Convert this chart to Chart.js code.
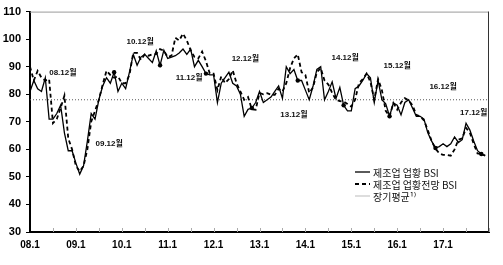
<!DOCTYPE html>
<html>
<head>
<meta charset="utf-8">
<script src="https://cdn.jsdelivr.net/npm/chart.js@4/dist/chart.umd.min.js"></script>
<style>
  html, body { margin: 0; padding: 0; background: #fff; }
  #wrap { width: 503px; height: 265px; position: relative; }
</style>
</head>
<body>
<div id="wrap"><canvas id="bsiChart"></canvas></div>
<script>
// Categories: monthly, 08.1 ~ 18.1 (axis runs one month past the data)
const years = ['08', '09', '10', '11', '12', '13', '14', '15', '16', '17'];
const months = [];
years.forEach(y => { for (let mo = 1; mo <= 12; mo++) months.push(y + '.' + mo); });
months.push('18.1');
const yearTicks = ['08.1', '09.1', '10.1', '11.1', '12.1', '13.1', '14.1', '15.1', '16.1', '17.1'];

// 제조업 업황 BSI (actual)
const actualBSI = [
  81, 85, 82, 81, 86, 71, 71, 73, 76, 66, 59.5, 59.5,
  55, 51, 54, 63, 73, 71, 78, 83, 86, 84, 88, 81,
  84, 82, 88, 94.5, 90.5, 93.5, 94.5, 93, 91.5, 95.8, 90.5, 96,
  93, 93.5, 94, 95, 96.4, 94.5, 96.4, 90, 92.3, 90, 87.5, 87,
  87, 77, 84, 86, 88, 84, 83, 80, 72, 74.5, 75, 77,
  81, 77, 78, 79, 81, 83, 78.5, 90, 87.5, 89, 85, 85,
  81.5, 78, 83, 89, 90, 78, 81, 84.5, 78.5, 82.5, 76, 74,
  74, 82, 83, 85, 87.5, 86, 77, 85, 78, 76.5, 72, 76.8,
  76, 72.5, 77, 78, 75, 72, 72, 71, 66, 63, 60.5, 61,
  62, 61, 62, 64.5, 62.5, 63.5, 69.5, 67, 63, 59.5, 58.3, 57.7
];
// 제조업 업황전망 BSI (outlook)
const outlookBSI = [
  90, 85, 88.5, 86, 85, 85.5, 69.5, 71, 75, 79.5, 64, 60,
  54, 52, 54, 60, 70, 74, 78, 83.5, 88.5, 87, 86, 86.5,
  84, 84, 87, 95, 95, 92.5, 94.5, 94, 94.5, 94.6, 96.4, 95.8,
  93.5, 94, 100.5, 99.5, 102, 99.5, 96, 93.5, 93, 95.5, 92, 87.5,
  87.5, 81.5, 86.5, 84, 85.5, 88.7, 84, 81, 78, 79, 74.5, 74.4,
  80.5, 80, 80.4, 79.8, 79.8, 82, 81, 84, 89.5, 93, 94.5, 88,
  87, 80.5, 82.5, 88, 89.5, 85, 83.5, 80.5, 78, 77.5, 77.4, 76.5,
  75.5, 78, 84, 85.5, 87.5, 84.5, 78, 85.5, 81.5, 74, 72, 76.8,
  74.4, 77, 78.6, 77.8, 76, 72.5, 72, 70.5, 67, 63, 60.3, 58.5,
  58, 58, 57.7, 60, 63.5, 64, 67.8, 66, 62, 58.5, 58.3, 57.7
];
const longTermAvg = 78;

// marked points on the actual series and the notes beside them
const dotMonths = ['09.11', '10.11', '11.11', '12.11', '13.11', '14.11', '15.11', '16.11', '17.11'];
const noteTexts = ['08.12월', '09.12월', '10.12월', '11.12월', '12.12월', '13.12월', '14.12월', '15.12월', '16.12월', '17.12월'];
const noteMonthIdx = [8.6, 20.7, 28.8, 41.6, 56.3, 69, 82.4, 96, 108, 116];
const noteValues = [87.9, 61.9, 99, 86, 92.9, 72.6, 93.1, 90.5, 82.7, 73.2];

const seriesNames = ['제조업 업황 BSI', '제조업 업황전망 BSI', '장기평균¹⁾'];

Chart.defaults.font.family = '"Liberation Sans", "Noto Sans CJK KR", sans-serif';
Chart.defaults.color = '#000';

const framePlugin = { // top/right frame, 6-month ticks, notes and legend
  id: 'frame',
  afterDatasetsDraw(chart) {
    const { ctx, chartArea: a, scales: { x, y } } = chart;
    ctx.save();
    ctx.strokeStyle = '#9a9a9a';
    ctx.lineWidth = 1;
    ctx.beginPath();
    ctx.moveTo(a.left, a.top + 0.5); ctx.lineTo(a.right, a.top + 0.5);
    ctx.stroke();
    ctx.strokeStyle = '#333';
    ctx.beginPath();
    ctx.moveTo(a.right - 0.5, a.top); ctx.lineTo(a.right - 0.5, a.bottom);
    ctx.stroke();
    // minor ticks every 6 months, inside the plot
    ctx.strokeStyle = '#aaa';
    for (let i = 6; i < months.length; i += 6) {
      const px = Math.round(x.getPixelForValue(i)) + 0.5;
      ctx.beginPath(); ctx.moveTo(px, a.bottom - 4); ctx.lineTo(px, a.bottom); ctx.stroke();
    }
    // notes
    ctx.fillStyle = '#111';
    ctx.font = 'bold 8px "Liberation Sans", "Noto Sans CJK KR", sans-serif';
    ctx.textAlign = 'center';
    ctx.textBaseline = 'middle';
    noteTexts.forEach((t, i) => {
      ctx.fillText(t, x.getPixelForValue(noteMonthIdx[i]), y.getPixelForValue(noteValues[i]));
    });
    // legend
    const lx = 355, ly = 172, gap = 12;
    ctx.textAlign = 'left';
    ctx.font = '10px "Noto Sans CJK KR", sans-serif';
    const styles = [
      { c: '#000', w: 1.3, d: [] },
      { c: '#000', w: 1.8, d: [4, 3] },
      { c: '#bbb', w: 1, d: [] }
    ];
    seriesNames.forEach((name, i) => {
      const yy = ly + i * gap;
      ctx.strokeStyle = styles[i].c;
      ctx.lineWidth = styles[i].w;
      ctx.setLineDash(styles[i].d);
      ctx.beginPath(); ctx.moveTo(lx, yy); ctx.lineTo(lx + 15, yy); ctx.stroke();
      ctx.setLineDash([]);
      ctx.fillStyle = '#111';
      ctx.fillText(name, lx + 18, yy + 1);
    });
    ctx.restore();
  }
};

const bsiChart = new Chart(document.getElementById('bsiChart'), {
  type: 'line',
  data: {
    labels: months,
    datasets: [
      {
        label: seriesNames[0],
        data: actualBSI,
        borderColor: '#000',
        backgroundColor: '#000',
        borderWidth: 1.3,
        pointRadius: months.map(m => dotMonths.includes(m) ? 2.2 : 0),
        pointBorderWidth: 0,
        tension: 0
      },
      {
        label: seriesNames[1],
        data: outlookBSI,
        borderColor: '#000',
        borderWidth: 1.8,
        borderDash: [4, 3],
        pointRadius: 0,
        tension: 0
      },
      {
        label: seriesNames[2],
        data: months.map(() => longTermAvg),
        borderColor: '#555',
        borderWidth: 1,
        borderDash: [1, 2],
        pointRadius: 0
      }
    ]
  },
  options: {
    responsive: true,
    maintainAspectRatio: false,
    animation: false,
    layout: { padding: { top: 7, right: 14, left: 0, bottom: 0 } },
    plugins: { legend: { display: false }, tooltip: { enabled: false } },
    scales: {
      x: {
        type: 'category',
        offset: false,
        border: { color: '#000', width: 2 },
        grid: { display: false, drawTicks: false },
        ticks: {
          autoSkip: false,
          maxRotation: 0,
          padding: 7,
          font: { size: 10, weight: 'bold' },
          callback: function (v, i) { return yearTicks.includes(months[i]) ? months[i] : ''; }
        },
        afterFit(scale) { scale.height = 33; }
      },
      y: {
        min: 30,
        max: 110,
        border: { color: '#000', width: 2 },
        grid: { drawOnChartArea: false, drawTicks: true, tickLength: 4, color: '#000' },
        ticks: { stepSize: 10, padding: 5, font: { size: 11, weight: 'bold' } },
        afterFit(scale) { scale.width = 30; }
      }
    }
  },
  plugins: [framePlugin]
});
</script>
</body>
</html>
